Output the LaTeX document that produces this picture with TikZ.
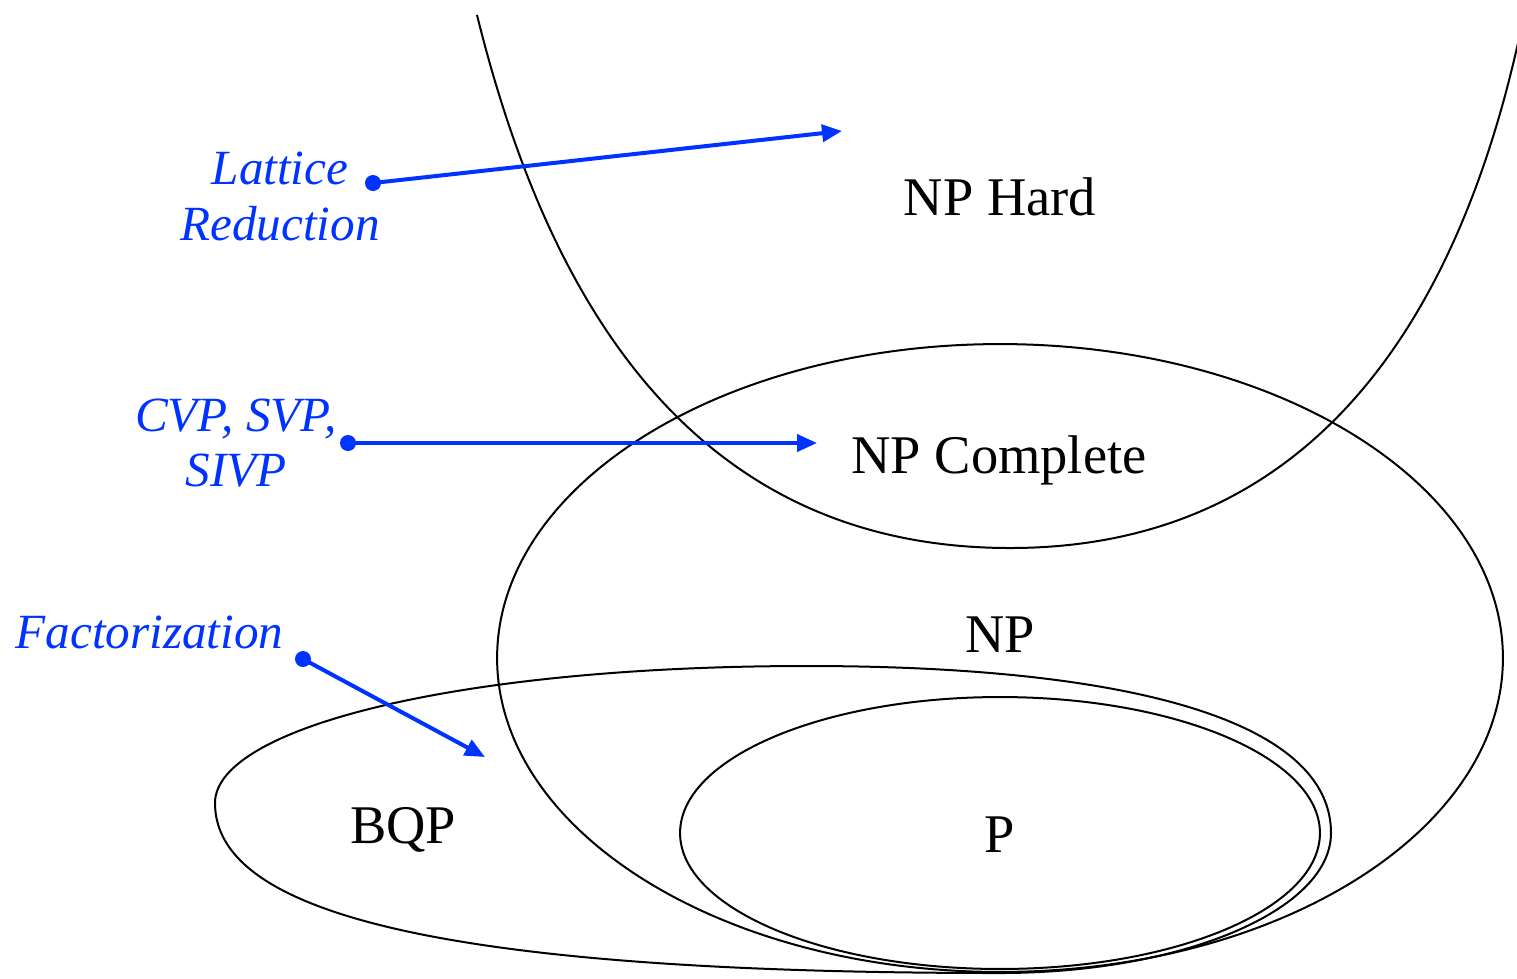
\documentclass[tikz,border=0pt]{standalone}
\usepackage{fontspec}
\setmainfont{Liberation Serif}
\usetikzlibrary{arrows.meta}
\definecolor{linkblue}{RGB}{0,51,255}
\begin{document}
\begin{tikzpicture}[x=0.02cm,y=-0.02cm,
  setline/.style={line width=0.04cm, black},
  classname/.style={font=\fontsize{31}{36}\selectfont, inner sep=0pt, anchor=base},
  problem/.style={font=\fontsize{28}{32}\selectfont\itshape, text=linkblue, inner sep=0pt, anchor=base},
  pointer/.style={draw=linkblue, line width=0.08cm,
    -{Triangle[length=0.40cm,width=0.34cm,fill=linkblue]}},
  origin/.style={fill=linkblue}]
\useasboundingbox (0,0) rectangle (1517,978);

% complexity classes
\begin{scope}
  \clip (0,0) rectangle (1517,978);
  % NP-hard region, open at the top
  \draw[setline] (477,15) .. controls (549,306) and (695,548) .. (1010,548)
                 .. controls (1325,548) and (1466,300) .. (1524,15);
\end{scope}
% NP
\draw[setline] (1000,658) ellipse [x radius=10.06cm, y radius=6.28cm];
% BQP: its right half runs just outside P
\draw[setline] (1331,833) .. controls (1331,723) and (1137,666) .. (807,666)
               .. controls (457,666) and (215,728) .. (215,803)
               .. controls (215,913) and (440,973) .. (1000,973)
               .. controls (1183,973) and (1331,910) .. (1331,833) -- cycle;
% P
\draw[setline] (1000,833) ellipse [x radius=6.4cm, y radius=2.72cm];

% class labels
\node[classname] (nphard) at (1000,215) {NP Hard};
\node[classname] (npc) at (999,473) {NP Complete};
\node[classname] (np) at (1000,652) {NP};
\node[classname] (bqp) at (403,843) {BQP};
\node[classname] (p) at (1000,852) {P};

% problems and where they sit
\node[problem] (lat1) at (280,184) {Lattice};
\node[problem] (lat2) at (280,240) {Reduction};
\node[problem] (cvp1) at (236,431) {CVP, SVP,};
\node[problem] (cvp2) at (236,486) {SIVP};
\node[problem] (fact) at (149.5,648) {Factorization};

\coordinate (latdot) at (373,183);   \coordinate (lathead) at (842,131);
\coordinate (cvpdot) at (348,443);   \coordinate (cvphead) at (817,443);
\coordinate (factdot) at (303,659);  \coordinate (facthead) at (485,757);

\draw[pointer] (latdot) -- (lathead);
\draw[pointer] (cvpdot) -- (cvphead);
\draw[pointer] (factdot) -- (facthead);
\fill[origin] (latdot) circle[radius=0.16cm];
\fill[origin] (cvpdot) circle[radius=0.16cm];
\fill[origin] (factdot) circle[radius=0.16cm];
\end{tikzpicture}
\end{document}
